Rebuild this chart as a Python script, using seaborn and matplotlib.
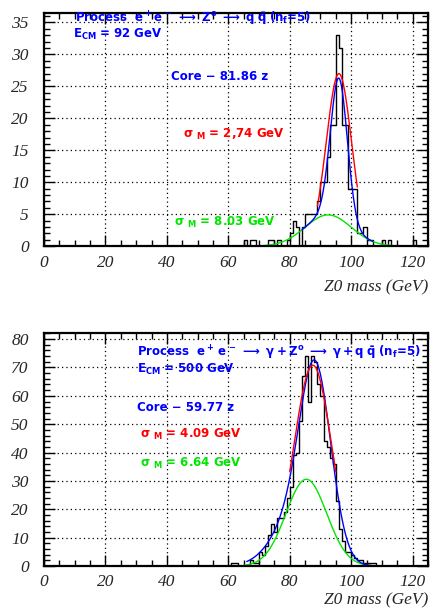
import numpy as np
import pandas as pd
import matplotlib
matplotlib.use('Agg')
import matplotlib.pyplot as plt
from matplotlib.ticker import MultipleLocator
import seaborn as sns

# histogram contents, 1 GeV bins starting at 60 GeV
bin_left = np.arange(60, 125)
counts_92 = [0, 0, 0, 0, 0, 1, 0, 1, 1, 0,
             0, 0, 0, 1, 1, 0, 1, 0, 0, 1,
             2, 4, 3, 0, 3, 5, 5, 5, 5, 7,
             10, 10, 14, 19, 19, 33, 31, 19, 19, 9,
             9, 9, 2, 2, 3, 1, 1, 0, 0, 0,
             1, 0, 1, 0, 0, 0, 0, 0, 0, 0,
             1, 0, 0, 0, 0]
counts_500 = [0, 1, 1, 0, 0, 0, 0, 2, 1, 1,
              5, 4, 7, 11, 15, 12, 17, 17, 19, 24,
              28, 39, 40, 51, 67, 74, 58, 74, 72, 64,
              60, 44, 42, 38, 36, 23, 13, 9, 5, 5,
              4, 3, 2, 2, 1, 1, 1, 1, 0, 0,
              0, 0, 0, 0, 0, 0, 0, 0, 0, 0,
              0, 0, 0, 0, 0]

# fitted curves: (amplitude, mean, sigma) and drawn range
red_92 = (27.0, 96.0, 4.1)
red_92_range = (89, 102)
green_92 = (4.9, 92.5, 7.5)
green_92_range = (70, 120)
core_92 = (21.9, 96.0, 2.74)
blue_92_range = (84, 107)

red_500 = (70.8, 87.5, 6.1)
red_500_range = (80, 95)
green_500 = (30.6, 85.4, 6.64)
green_500_range = (65, 110)
core_500 = (59.2, 88.5, 5.0)
tail_500 = (18.0, 82.5, 7.5)
blue_500_range = (66, 108)

labels_92 = [r"Process  $e^+e^-\;\longrightarrow\;Z^o\;\longrightarrow\;q\;\bar{q}\;$(n$_f$=5)",
             r"E$_{CM}$ = 92 GeV",
             "Core \u2212 81.86 z",
             r"$\sigma$ $_M$ = 2,74 GeV",
             r"$\sigma$ $_M$ = 8.03 GeV"]
labels_500 = [r"Process  $e^+\,e^-\;\longrightarrow\;\gamma+Z^o\;\longrightarrow\;\gamma+q\;\bar{q}\;$(n$_f$=5)",
              r"E$_{CM}$ = 500 GeV",
              "Core \u2212 59.77 z",
              r"$\sigma$ $_M$ = 4.09 GeV",
              r"$\sigma$ $_M$ = 6.64 GeV"]

BLUE = '#0000ff'
RED = '#ff0000'
GREEN = '#00e600'


def gauss(x, p):
    a, m, s = p
    return a * np.exp(-(x - m) ** 2 / (2 * s ** 2))


sns.set_style('ticks')
plt.rcParams['font.family'] = ['Liberation Serif', 'DejaVu Serif']
plt.rcParams['mathtext.fontset'] = 'custom'
plt.rcParams['mathtext.rm'] = 'DejaVu Sans:bold'
plt.rcParams['mathtext.it'] = 'DejaVu Sans:bold'
plt.rcParams['mathtext.bf'] = 'DejaVu Sans:bold'
plt.rcParams['mathtext.sf'] = 'DejaVu Sans:bold'


def draw_panel(ax, counts, ytop, ymajor, yminor, curves, labels, label_pos, xlab_off):
    df = pd.DataFrame({'mass': bin_left + 0.5, 'n': counts})
    sns.histplot(data=df, x='mass', weights='n', binwidth=1, binrange=(60, 125),
                 element='step', fill=False, color='black', linewidth=1.0, ax=ax)
    for xs, ys, col in curves:
        sns.lineplot(x=xs, y=ys, color=col, linewidth=1.0, ax=ax, sort=False)

    ax.set_xlim(0, 125)
    ax.set_ylim(0, ytop)
    ax.xaxis.set_major_locator(MultipleLocator(20))
    ax.xaxis.set_minor_locator(MultipleLocator(5))
    ax.yaxis.set_major_locator(MultipleLocator(ymajor))
    ax.yaxis.set_minor_locator(MultipleLocator(yminor))
    ax.set_xticks([t for t in range(0, 121, 20)])
    ax.grid(which='major', color='black', linestyle=(0, (1, 2.5)), linewidth=0.9)
    ax.set_axisbelow(True)
    ax.tick_params(which='both', direction='in', top=True, right=True, width=1, color='black')
    ax.tick_params(which='major', length=8)
    ax.tick_params(which='minor', length=4)
    ax.tick_params(axis='x', which='major', pad=6, labelsize=12.5)
    ax.tick_params(axis='y', which='major', pad=11, labelsize=12.5)
    for lab in ax.get_xticklabels() + ax.get_yticklabels():
        lab.set_fontstyle('italic')
    for sp in ax.spines.values():
        sp.set_visible(True)
        sp.set_linewidth(1.6)
        sp.set_color('black')
    ax.set_xlabel('')
    ax.set_ylabel('')
    ax.text(1.0, xlab_off, 'Z0 mass (GeV)', transform=ax.transAxes, ha='right', va='center',
            fontsize=12.5, fontstyle='italic', family=['Liberation Serif'])

    cols = [BLUE, BLUE, BLUE, RED, GREEN]
    for txt, (fx, fy), col in zip(labels, label_pos, cols):
        ax.text(fx, fy, txt, transform=ax.transAxes, ha='left', va='center',
                color=col, fontsize=8.5, fontweight='bold', family=['DejaVu Sans'])


fig = plt.figure(figsize=(4.3, 6.14), dpi=100)
ax1 = fig.add_axes([0.1023, 0.599, 0.893, 0.38])
ax2 = fig.add_axes([0.1023, 0.078, 0.893, 0.379])

# top panel curves
xg = np.linspace(*green_92_range, 300)
xb = np.linspace(*blue_92_range, 300)
xr = np.linspace(*red_92_range, 200)
curves_92 = [(xg, gauss(xg, green_92), GREEN),
             (xb, gauss(xb, core_92) + gauss(xb, green_92), BLUE),
             (xr, gauss(xr, red_92), RED)]
pos_92 = [(0.081, 0.975), (0.0755, 0.908), (0.331, 0.726), (0.362, 0.481), (0.339, 0.10)]
draw_panel(ax1, counts_92, 36.5, 5, 1, curves_92, labels_92, pos_92, -0.178)

# bottom panel curves
xg = np.linspace(*green_500_range, 300)
xb = np.linspace(*blue_500_range, 300)
xr = np.linspace(*red_500_range, 200)
curves_500 = [(xg, gauss(xg, green_500), GREEN),
              (xb, gauss(xb, core_500) + gauss(xb, tail_500), BLUE),
              (xr, gauss(xr, red_500), RED)]
pos_500 = [(0.242, 0.915), (0.242, 0.843), (0.242, 0.683), (0.25, 0.567), (0.25, 0.443)]
draw_panel(ax2, counts_500, 82, 10, 2, curves_500, labels_500, pos_500, -0.146)

fig.savefig('out.png', dpi=100)
